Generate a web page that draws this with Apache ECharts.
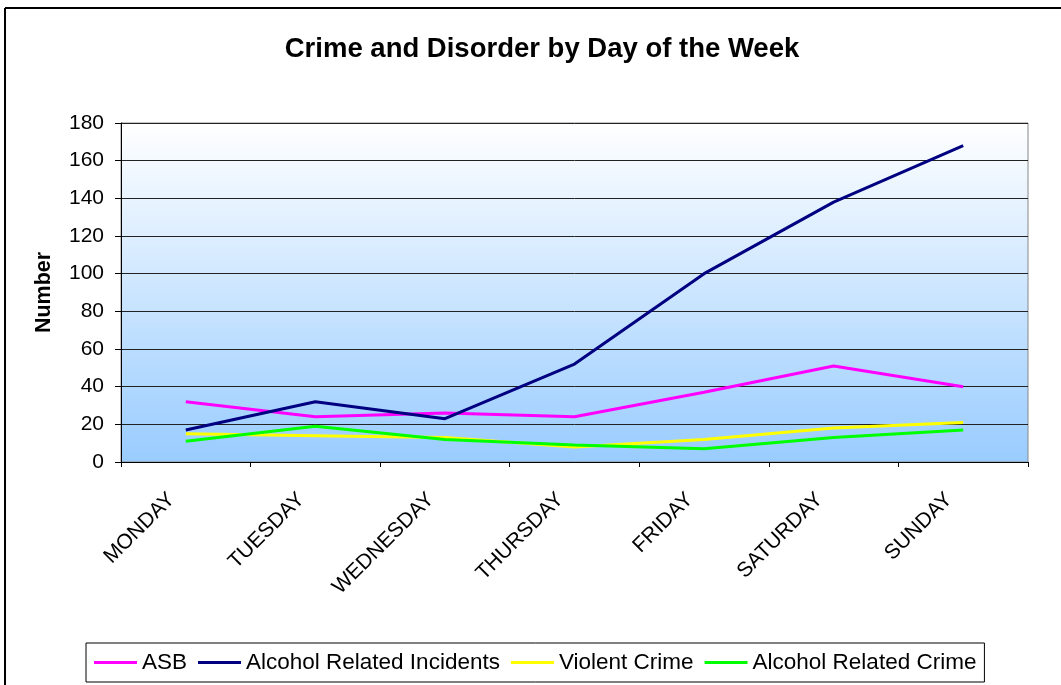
<!DOCTYPE html>
<html>
<head>
<meta charset="utf-8">
<script src="https://cdn.jsdelivr.net/npm/echarts@6/dist/echarts.min.js"></script>
<style>html,body{margin:0;padding:0;background:#fff;}#c{width:1061px;height:685px;}</style>
</head>
<body>
<div id="c"></div>
<script>
var categories = ['MONDAY','TUESDAY','WEDNESDAY','THURSDAY','FRIDAY','SATURDAY','SUNDAY'];
var asb = [32, 24, 26, 24, 37, 51, 40];
var alcoholIncidents = [17, 32, 23, 52, 100, 138, 168];
var violentCrime = [15, 14, 13, 8, 12, 18, 21];
var alcoholCrime = [11, 19, 12, 9, 7, 13, 17];
var yTicks = [0, 20, 40, 60, 80, 100, 120, 140, 160, 180];

var chart = echarts.init(document.getElementById('c'));
var font = 'Liberation Sans, Arial, sans-serif';
function line(name, data, color) {
  return { name: name, type: 'line', data: data, symbol: 'none', lineStyle: { color: color, width: 3 }, itemStyle: { color: color } };
}
chart.setOption({
  animation: false,
  textStyle: { fontFamily: font },
  title: {
    text: 'Crime and Disorder by Day of the Week',
    left: 537, top: 30, textAlign: 'center',
    textStyle: { fontFamily: font, fontSize: 27.5, fontWeight: 'bold', color: '#000' }
  },
  graphic: [
    { type: 'line', shape: { x1: 5, y1: 8, x2: 1061, y2: 8 }, style: { stroke: '#000', lineWidth: 2 } },
    { type: 'line', shape: { x1: 5, y1: 8, x2: 5, y2: 685 }, style: { stroke: '#000', lineWidth: 2 } }
  ],
  legend: {
    left: 86, top: 643,
    padding: [8, 8, 8, 8],
    borderColor: '#000', borderWidth: 1,
    itemWidth: 43, itemHeight: 3, itemGap: 11,
    icon: 'rect',
    textStyle: { fontFamily: font, fontSize: 22.5, color: '#000' },
    data: ['ASB', 'Alcohol Related Incidents', 'Violent Crime', 'Alcohol Related Crime']
  },
  grid: {
    left: 121, top: 123, right: 33, bottom: 223,
    show: true, borderColor: '#888', borderWidth: 1,
    backgroundColor: new echarts.graphic.LinearGradient(0, 0, 0, 1, [
      { offset: 0, color: '#ffffff' },
      { offset: 1, color: '#99ccff' }
    ])
  },
  xAxis: {
    type: 'category', data: categories, boundaryGap: true,
    axisLine: { lineStyle: { color: '#000', width: 1 } },
    axisTick: { show: true, length: 5, lineStyle: { color: '#000' } },
    axisLabel: { rotate: 45, fontSize: 21, color: '#000', fontFamily: font, margin: 20, padding: [0, 20, 0, 0] }
  },
  yAxis: {
    type: 'value', min: 0, max: 180, interval: 20,
    name: 'Number', nameLocation: 'middle', nameGap: 66, nameRotate: 90,
    nameTextStyle: { fontFamily: font, fontSize: 21.5, fontWeight: 'bold', color: '#000' },
    axisLine: { show: true, lineStyle: { color: '#000', width: 1 } },
    axisTick: { show: true, length: 6, lineStyle: { color: '#000' } },
    axisLabel: { fontSize: 21, color: '#000', fontFamily: font, margin: 17,
      formatter: function (v) { return yTicks.indexOf(v) >= 0 ? String(v) : ''; } },
    splitLine: { show: true, lineStyle: { color: '#222', width: 1 } }
  },
  series: [
    line('ASB', asb, '#ff00ff'),
    line('Alcohol Related Incidents', alcoholIncidents, '#000080'),
    line('Violent Crime', violentCrime, '#ffff00'),
    line('Alcohol Related Crime', alcoholCrime, '#00ff00')
  ]
});
</script>
</body>
</html>
